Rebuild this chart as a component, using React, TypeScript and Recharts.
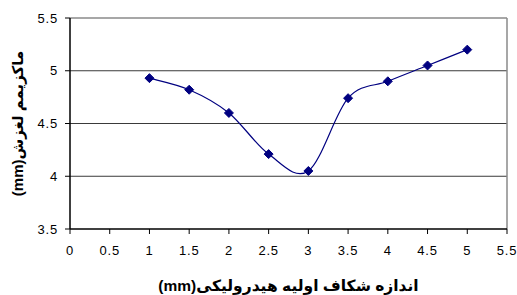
import React from 'react';
import {
  LineChart,
  Line,
  XAxis,
  YAxis,
  ReferenceLine,
  Label
} from "recharts";

const crackSize = [1, 1.5, 2, 2.5, 3, 3.5, 4, 4.5, 5];
const maxSlip = [4.93, 4.82, 4.6, 4.21, 4.05, 4.74, 4.9, 5.05, 5.2];
const xTicks = [0, 0.5, 1, 1.5, 2, 2.5, 3, 3.5, 4, 4.5, 5, 5.5];
const yTicks = [3.5, 4, 4.5, 5, 5.5];
const gridValues = [4, 4.5, 5];

const X_TITLE = "اندازه شکاف اولیه هیدرولیکی(mm)";
const Y_TITLE = "ماکزیمم لغزش(mm)";

const FONT = "'Liberation Sans', Arial, 'DejaVu Sans', sans-serif";
const NAVY = "#000080";

const data = crackSize.map((x, i) => ({ x, y: maxSlip[i] }));

// excel-like smoothed line (catmull-rom through the points)
const excelSmooth = (context: any) => {
  let pts: number[][] = [];
  return {
    areaStart() {},
    areaEnd() {},
    lineStart() { pts = []; },
    point(x: number, y: number) { pts.push([+x, +y]); },
    lineEnd() {
      if (!pts.length) return;
      context.moveTo(pts[0][0], pts[0][1]);
      for (let i = 0; i < pts.length - 1; i++) {
        const p0 = pts[i - 1] || pts[i];
        const p1 = pts[i];
        const p2 = pts[i + 1];
        const p3 = pts[i + 2] || p2;
        context.bezierCurveTo(
          p1[0] + (p2[0] - p0[0]) / 6, p1[1] + (p2[1] - p0[1]) / 6,
          p2[0] - (p3[0] - p1[0]) / 6, p2[1] - (p3[1] - p1[1]) / 6,
          p2[0], p2[1]
        );
      }
    }
  };
};

const Diamond = (props: any) => {
  const { cx, cy, index } = props;
  const s = 4.5;
  return (
    <path
      key={`d-${index}`}
      d={`M${cx},${cy - s}L${cx + s},${cy}L${cx},${cy + s}L${cx - s},${cy}Z`}
      fill={NAVY}
      stroke={NAVY}
    />
  );
};

const tickStyle = { fill: '#000', fontSize: 13, fontFamily: FONT, letterSpacing: 0.8 };

export default function App() {
  return (
    <div style={{ position: 'absolute', left: 0, top: 0, background: '#fff' }}>
      <LineChart
        width={517}
        height={295}
        data={data}
        margin={{ top: 18, right: 10, left: 0, bottom: 0 }}
      >
        {gridValues.map(v => (
          <ReferenceLine key={v} y={v} stroke="#3a3a3a" strokeWidth={1} />
        ))}
        <ReferenceLine y={5.5} stroke="#8a8a8a" strokeWidth={1.5} />
        <ReferenceLine x={5.5} stroke="#8a8a8a" strokeWidth={1.5} />
        <XAxis
          dataKey="x"
          type="number"
          domain={[0, 5.5]}
          ticks={xTicks}
          interval={0}
          height={66}
          tickSize={5}
          tickMargin={12}
          axisLine={{ stroke: '#000', strokeWidth: 1.5 }}
          tickLine={{ stroke: '#000' }}
          tick={tickStyle}
        >
          <Label
            content={(p: any) => {
              const vb = p.viewBox || {};
              return (
                <text
                  x={vb.x + vb.width / 2}
                  y={291}
                  textAnchor="middle"
                  direction="rtl"
                  fontFamily={FONT}
                  fontWeight="bold"
                  fontSize={15.5}
                  fill="#000"
                >
                  {X_TITLE}
                </text>
              );
            }}
          />
        </XAxis>
        <YAxis
          type="number"
          domain={[3.5, 5.5]}
          ticks={yTicks}
          interval={0}
          width={70}
          tickSize={5}
          tickMargin={7}
          axisLine={{ stroke: '#000', strokeWidth: 1.5 }}
          tickLine={{ stroke: '#000' }}
          tick={tickStyle}
        >
          <Label
            content={(p: any) => {
              const vb = p.viewBox || {};
              const cy = vb.y + vb.height / 2;
              return (
                <text
                  x={23}
                  y={cy}
                  transform={`rotate(-90 23 ${cy})`}
                  textAnchor="middle"
                  direction="rtl"
                  fontFamily={FONT}
                  fontWeight="bold"
                  fontSize={15}
                  fill="#000"
                >
                  {Y_TITLE}
                </text>
              );
            }}
          />
        </YAxis>
        <Line
          dataKey="y"
          type={excelSmooth as any}
          stroke={NAVY}
          strokeWidth={1.2}
          dot={Diamond}
          activeDot={false}
          isAnimationActive={false}
        />
      </LineChart>
    </div>
  );
}
